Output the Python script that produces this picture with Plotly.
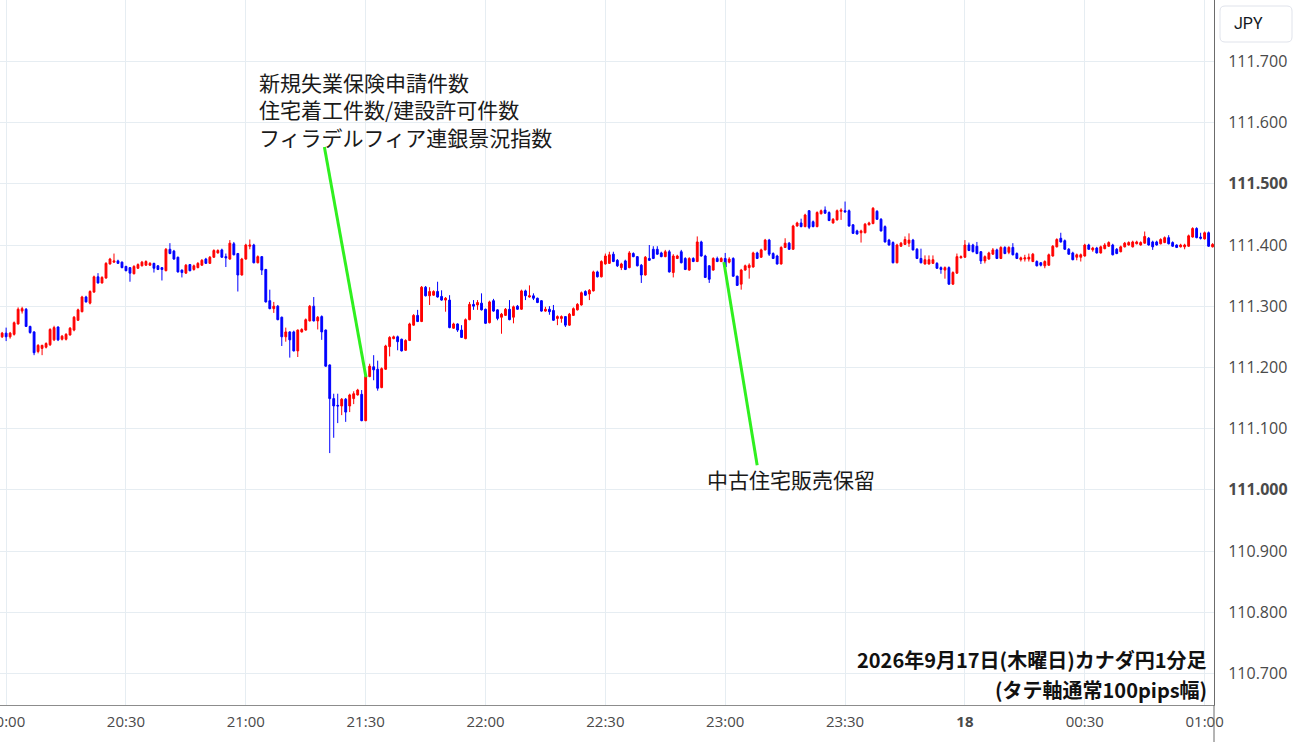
import pandas as pd
import plotly.graph_objects as go

# 1-minute bars, 2026-09-17 19:59 -> 2026-09-18 01:02
times = pd.date_range("2026-09-17 19:59", periods=304, freq="1min")

open_ = [
    111.250, 111.256, 111.250, 111.254, 111.271, 111.292, 111.295, 111.267, 111.258, 111.226,
    111.231, 111.233, 111.237, 111.245, 111.266, 111.246, 111.246, 111.253, 111.261, 111.277,
    111.291, 111.315, 111.305, 111.323, 111.348, 111.338, 111.346, 111.369, 111.372, 111.374,
    111.372, 111.365, 111.363, 111.353, 111.362, 111.366, 111.367, 111.367, 111.370, 111.366,
    111.363, 111.358, 111.393, 111.390, 111.380, 111.359, 111.354, 111.368, 111.360, 111.363,
    111.367, 111.377, 111.370, 111.380, 111.387, 111.392, 111.381, 111.377, 111.402, 111.386,
    111.351, 111.377, 111.398, 111.400, 111.371, 111.381, 111.360, 111.309, 111.296, 111.300,
    111.282, 111.250, 111.258, 111.258, 111.227, 111.258, 111.261, 111.276, 111.300, 111.276,
    111.283, 111.261, 111.204, 111.149, 111.138, 111.137, 111.148, 111.137, 111.149, 111.155,
    111.156, 111.113, 111.185, 111.201, 111.197, 111.167, 111.197, 111.234, 111.247, 111.250,
    111.246, 111.228, 111.244, 111.269, 111.285, 111.275, 111.331, 111.317, 111.318, 111.324,
    111.316, 111.310, 111.310, 111.264, 111.271, 111.261, 111.247, 111.278, 111.303, 111.302,
    111.305, 111.295, 111.273, 111.309, 111.294, 111.282, 111.285, 111.295, 111.282, 111.300,
    111.295, 111.325, 111.315, 111.317, 111.313, 111.309, 111.292, 111.295, 111.293, 111.280,
    111.280, 111.283, 111.269, 111.285, 111.294, 111.302, 111.324, 111.320, 111.325, 111.356,
    111.348, 111.369, 111.370, 111.385, 111.375, 111.363, 111.374, 111.363, 111.386, 111.381,
    111.367, 111.351, 111.378, 111.393, 111.393, 111.387, 111.381, 111.389, 111.355, 111.378,
    111.389, 111.378, 111.359, 111.378, 111.373, 111.405, 111.382, 111.366, 111.359, 111.378,
    111.373, 111.378, 111.372, 111.378, 111.349, 111.336, 111.359, 111.363, 111.364, 111.387,
    111.380, 111.392, 111.408, 111.386, 111.382, 111.369, 111.396, 111.403, 111.393, 111.431,
    111.436, 111.430, 111.456, 111.438, 111.430, 111.451, 111.457, 111.453, 111.436, 111.441,
    111.455, 111.456, 111.456, 111.433, 111.423, 111.420, 111.420, 111.433, 111.435, 111.455,
    111.442, 111.430, 111.408, 111.404, 111.371, 111.398, 111.401, 111.403, 111.408, 111.393,
    111.378, 111.369, 111.369, 111.370, 111.370, 111.363, 111.359, 111.363, 111.336, 111.354,
    111.379, 111.380, 111.400, 111.400, 111.398, 111.389, 111.374, 111.377, 111.385, 111.392,
    111.378, 111.396, 111.388, 111.396, 111.386, 111.376, 111.377, 111.377, 111.373, 111.373,
    111.371, 111.366, 111.367, 111.382, 111.397, 111.411, 111.407, 111.393, 111.387, 111.380,
    111.380, 111.382, 111.400, 111.392, 111.395, 111.387, 111.394, 111.398, 111.400, 111.393,
    111.389, 111.397, 111.400, 111.397, 111.402, 111.400, 111.403, 111.411, 111.405, 111.405,
    111.402, 111.404, 111.412, 111.404, 111.400, 111.397, 111.397, 111.398, 111.413, 111.427,
    111.413, 111.410, 111.420, 111.397,
]

high = [
    111.258, 111.265, 111.258, 111.275, 111.298, 111.299, 111.297, 111.268, 111.259, 111.238,
    111.237, 111.241, 111.264, 111.268, 111.267, 111.253, 111.256, 111.266, 111.284, 111.296,
    111.317, 111.317, 111.326, 111.350, 111.354, 111.349, 111.372, 111.379, 111.386, 111.376,
    111.373, 111.366, 111.364, 111.367, 111.370, 111.374, 111.375, 111.372, 111.371, 111.367,
    111.364, 111.395, 111.403, 111.392, 111.381, 111.360, 111.369, 111.369, 111.368, 111.372,
    111.377, 111.379, 111.382, 111.393, 111.393, 111.394, 111.386, 111.408, 111.405, 111.387,
    111.379, 111.402, 111.409, 111.402, 111.383, 111.382, 111.361, 111.327, 111.307, 111.302,
    111.283, 111.265, 111.259, 111.260, 111.262, 111.264, 111.280, 111.302, 111.315, 111.284,
    111.285, 111.262, 111.205, 111.157, 111.157, 111.150, 111.150, 111.157, 111.161, 111.165,
    111.163, 111.187, 111.206, 111.220, 111.211, 111.200, 111.237, 111.251, 111.252, 111.252,
    111.247, 111.246, 111.273, 111.287, 111.294, 111.333, 111.333, 111.331, 111.326, 111.340,
    111.326, 111.315, 111.318, 111.273, 111.272, 111.269, 111.280, 111.307, 111.310, 111.310,
    111.321, 111.296, 111.309, 111.312, 111.295, 111.289, 111.297, 111.310, 111.301, 111.302,
    111.327, 111.327, 111.334, 111.321, 111.314, 111.310, 111.299, 111.300, 111.302, 111.285,
    111.285, 111.284, 111.289, 111.298, 111.305, 111.324, 111.326, 111.328, 111.358, 111.358,
    111.375, 111.386, 111.389, 111.389, 111.377, 111.371, 111.376, 111.390, 111.388, 111.382,
    111.369, 111.382, 111.400, 111.398, 111.398, 111.389, 111.392, 111.392, 111.385, 111.384,
    111.392, 111.380, 111.380, 111.380, 111.414, 111.407, 111.384, 111.367, 111.380, 111.381,
    111.380, 111.387, 111.380, 111.380, 111.350, 111.361, 111.368, 111.370, 111.389, 111.389,
    111.394, 111.410, 111.410, 111.388, 111.384, 111.398, 111.411, 111.405, 111.433, 111.438,
    111.443, 111.451, 111.457, 111.440, 111.455, 111.458, 111.463, 111.455, 111.444, 111.458,
    111.460, 111.471, 111.458, 111.434, 111.425, 111.425, 111.436, 111.438, 111.462, 111.457,
    111.444, 111.432, 111.410, 111.406, 111.402, 111.405, 111.414, 111.419, 111.410, 111.395,
    111.394, 111.383, 111.383, 111.383, 111.372, 111.365, 111.365, 111.365, 111.357, 111.386,
    111.383, 111.408, 111.404, 111.402, 111.405, 111.390, 111.383, 111.389, 111.395, 111.394,
    111.398, 111.398, 111.398, 111.403, 111.388, 111.381, 111.384, 111.386, 111.387, 111.375,
    111.372, 111.375, 111.386, 111.400, 111.411, 111.420, 111.409, 111.395, 111.389, 111.386,
    111.386, 111.402, 111.402, 111.397, 111.397, 111.399, 111.403, 111.406, 111.402, 111.395,
    111.399, 111.405, 111.406, 111.407, 111.407, 111.406, 111.422, 111.413, 111.407, 111.407,
    111.411, 111.414, 111.416, 111.406, 111.401, 111.402, 111.402, 111.417, 111.429, 111.429,
    111.420, 111.422, 111.422, 111.403,
]

low = [
    111.248, 111.243, 111.247, 111.252, 111.270, 111.288, 111.266, 111.255, 111.220, 111.223,
    111.220, 111.231, 111.235, 111.243, 111.243, 111.244, 111.244, 111.252, 111.259, 111.276,
    111.290, 111.306, 111.303, 111.322, 111.337, 111.337, 111.345, 111.368, 111.371, 111.369,
    111.362, 111.357, 111.340, 111.352, 111.361, 111.365, 111.366, 111.366, 111.355, 111.359,
    111.342, 111.357, 111.385, 111.376, 111.355, 111.347, 111.353, 111.357, 111.358, 111.362,
    111.366, 111.369, 111.369, 111.379, 111.386, 111.379, 111.364, 111.376, 111.383, 111.324,
    111.350, 111.376, 111.393, 111.370, 111.370, 111.351, 111.306, 111.295, 111.289, 111.277,
    111.235, 111.242, 111.216, 111.226, 111.217, 111.257, 111.260, 111.275, 111.275, 111.262,
    111.245, 111.201, 111.060, 111.085, 111.109, 111.122, 111.111, 111.127, 111.140, 111.154,
    111.112, 111.112, 111.184, 111.179, 111.162, 111.166, 111.196, 111.218, 111.246, 111.228,
    111.226, 111.227, 111.243, 111.268, 111.274, 111.274, 111.316, 111.302, 111.317, 111.314,
    111.309, 111.291, 111.264, 111.263, 111.258, 111.248, 111.246, 111.277, 111.294, 111.294,
    111.293, 111.271, 111.272, 111.291, 111.277, 111.255, 111.284, 111.277, 111.272, 111.294,
    111.294, 111.310, 111.314, 111.310, 111.305, 111.291, 111.291, 111.286, 111.276, 111.269,
    111.273, 111.266, 111.268, 111.284, 111.293, 111.301, 111.317, 111.310, 111.324, 111.347,
    111.347, 111.368, 111.369, 111.372, 111.364, 111.359, 111.359, 111.362, 111.380, 111.365,
    111.338, 111.350, 111.374, 111.377, 111.384, 111.380, 111.380, 111.355, 111.347, 111.377,
    111.370, 111.359, 111.358, 111.372, 111.372, 111.381, 111.346, 111.338, 111.358, 111.372,
    111.372, 111.363, 111.370, 111.348, 111.333, 111.327, 111.358, 111.345, 111.363, 111.377,
    111.379, 111.391, 111.382, 111.377, 111.368, 111.368, 111.395, 111.392, 111.392, 111.430,
    111.429, 111.429, 111.426, 111.429, 111.429, 111.450, 111.451, 111.439, 111.435, 111.440,
    111.441, 111.453, 111.430, 111.418, 111.417, 111.404, 111.419, 111.432, 111.434, 111.441,
    111.422, 111.404, 111.399, 111.370, 111.370, 111.397, 111.400, 111.397, 111.391, 111.377,
    111.370, 111.368, 111.368, 111.369, 111.361, 111.353, 111.345, 111.335, 111.335, 111.353,
    111.378, 111.379, 111.390, 111.388, 111.385, 111.369, 111.370, 111.376, 111.384, 111.377,
    111.377, 111.385, 111.385, 111.383, 111.377, 111.373, 111.373, 111.373, 111.372, 111.365,
    111.365, 111.362, 111.366, 111.381, 111.396, 111.404, 111.392, 111.384, 111.375, 111.375,
    111.373, 111.381, 111.392, 111.389, 111.386, 111.386, 111.393, 111.397, 111.383, 111.385,
    111.388, 111.396, 111.399, 111.396, 111.401, 111.399, 111.402, 111.399, 111.392, 111.399,
    111.401, 111.403, 111.401, 111.397, 111.395, 111.396, 111.393, 111.397, 111.412, 111.411,
    111.409, 111.409, 111.397, 111.396,
]

close = [
    111.256, 111.250, 111.256, 111.273, 111.295, 111.296, 111.267, 111.257, 111.224, 111.236,
    111.236, 111.239, 111.262, 111.265, 111.245, 111.251, 111.254, 111.264, 111.282, 111.294,
    111.315, 111.307, 111.324, 111.348, 111.338, 111.347, 111.370, 111.377, 111.374, 111.370,
    111.363, 111.358, 111.354, 111.365, 111.368, 111.372, 111.373, 111.370, 111.362, 111.360,
    111.360, 111.393, 111.386, 111.377, 111.356, 111.355, 111.367, 111.358, 111.366, 111.370,
    111.375, 111.370, 111.380, 111.391, 111.391, 111.380, 111.379, 111.403, 111.384, 111.351,
    111.377, 111.400, 111.400, 111.371, 111.381, 111.359, 111.307, 111.296, 111.300, 111.278,
    111.250, 111.258, 111.245, 111.227, 111.261, 111.262, 111.278, 111.300, 111.276, 111.282,
    111.258, 111.202, 111.149, 111.137, 111.137, 111.148, 111.127, 111.155, 111.157, 111.163,
    111.113, 111.185, 111.202, 111.196, 111.166, 111.198, 111.235, 111.249, 111.250, 111.242,
    111.227, 111.244, 111.271, 111.285, 111.275, 111.331, 111.317, 111.324, 111.324, 111.315,
    111.310, 111.313, 111.265, 111.271, 111.261, 111.249, 111.278, 111.303, 111.300, 111.306,
    111.294, 111.272, 111.307, 111.292, 111.280, 111.287, 111.295, 111.278, 111.299, 111.295,
    111.325, 111.317, 111.317, 111.313, 111.306, 111.292, 111.295, 111.291, 111.277, 111.283,
    111.283, 111.269, 111.287, 111.296, 111.303, 111.322, 111.318, 111.326, 111.356, 111.348,
    111.373, 111.382, 111.384, 111.373, 111.366, 111.369, 111.360, 111.387, 111.381, 111.366,
    111.351, 111.380, 111.375, 111.378, 111.385, 111.381, 111.389, 111.356, 111.382, 111.382,
    111.371, 111.360, 111.378, 111.373, 111.405, 111.382, 111.347, 111.344, 111.378, 111.373,
    111.378, 111.364, 111.377, 111.349, 111.334, 111.359, 111.366, 111.367, 111.387, 111.378,
    111.392, 111.408, 111.385, 111.378, 111.369, 111.396, 111.403, 111.393, 111.431, 111.436,
    111.430, 111.449, 111.429, 111.430, 111.453, 111.456, 111.452, 111.440, 111.442, 111.456,
    111.457, 111.454, 111.431, 111.419, 111.418, 111.423, 111.434, 111.436, 111.460, 111.442,
    111.423, 111.405, 111.400, 111.371, 111.400, 111.403, 111.409, 111.408, 111.392, 111.378,
    111.371, 111.376, 111.376, 111.376, 111.362, 111.360, 111.363, 111.336, 111.355, 111.381,
    111.381, 111.400, 111.391, 111.389, 111.386, 111.374, 111.381, 111.387, 111.392, 111.378,
    111.396, 111.386, 111.396, 111.384, 111.378, 111.379, 111.379, 111.380, 111.385, 111.366,
    111.367, 111.373, 111.384, 111.398, 111.409, 111.405, 111.393, 111.385, 111.376, 111.384,
    111.384, 111.400, 111.393, 111.395, 111.387, 111.397, 111.400, 111.404, 111.384, 111.386,
    111.397, 111.403, 111.404, 111.405, 111.405, 111.404, 111.414, 111.400, 111.397, 111.400,
    111.409, 111.412, 111.402, 111.398, 111.396, 111.400, 111.400, 111.415, 111.427, 111.412,
    111.411, 111.420, 111.398, 111.401,
]

x_tick_vals = ["2026-09-17 20:00", "2026-09-17 20:30", "2026-09-17 21:00", "2026-09-17 21:30",
               "2026-09-17 22:00", "2026-09-17 22:30", "2026-09-17 23:00", "2026-09-17 23:30",
               "2026-09-18 00:00", "2026-09-18 00:30", "2026-09-18 01:00"]
x_tick_text = ["20:00", "20:30", "21:00", "21:30", "22:00", "22:30", "23:00", "23:30",
               "<b>18</b>", "00:30", "01:00"]
y_tick_vals = [110.7, 110.8, 110.9, 111.0, 111.1, 111.2, 111.3, 111.4, 111.5, 111.6, 111.7]
y_tick_text = ["110.700", "110.800", "110.900", "<b>111.000</b>", "111.100", "111.200",
               "111.300", "111.400", "<b>111.500</b>", "111.600", "111.700"]

event_1_lines = ["新規失業保険申請件数", "住宅着工件数/建設許可件数", "フィラデルフィア連銀景況指数"]
event_2_text = "中古住宅販売保留"
caption_lines = ["2026年9月17日(木曜日)カナダ円1分足", "(タテ軸通常100pips幅)"]

W, H = 1300, 745
PL, PR, PT, PB = 0, 1214, 0, 705  # plot area in pixels


def px(x):
    return (x - PL) / (PR - PL)


def py(y):
    return 1 - (y - PT) / (PB - PT)


fig = go.Figure()
fig.add_trace(go.Candlestick(
    x=times, open=open_, high=high, low=low, close=close,
    increasing=dict(line=dict(color="#ff0000", width=1), fillcolor="#ff0000"),
    decreasing=dict(line=dict(color="#0000ff", width=1), fillcolor="#0000ff"),
    whiskerwidth=0, hoverinfo="skip",
))

CJK = "Noto Sans CJK JP"
ann = [
    dict(x=px(257), y=py(109), xref="paper", yref="paper", text="<br>".join(event_1_lines),
         showarrow=False, xanchor="left", yanchor="middle", align="left",
         font=dict(family=CJK, size=21, color="#1a1a1a")),
    dict(x=px(705), y=py(479), xref="paper", yref="paper", text=event_2_text,
         showarrow=False, xanchor="left", yanchor="middle",
         font=dict(family=CJK, size=21, color="#1a1a1a")),
    dict(x=px(1209), y=py(659), xref="paper", yref="paper",
         text="<b>" + caption_lines[0] + "</b>",
         showarrow=False, xanchor="right", yanchor="middle", align="right",
         font=dict(family=CJK, size=20, color="#111111")),
    dict(x=px(1209), y=py(689), xref="paper", yref="paper",
         text="<b>" + caption_lines[1] + "</b>",
         showarrow=False, xanchor="right", yanchor="middle", align="right",
         font=dict(family=CJK, size=20, color="#111111")),
    dict(x=px(1248), y=py(23), xref="paper", yref="paper", text="JPY",
         showarrow=False, xanchor="center", yanchor="middle",
         font=dict(family="Roboto", size=16, color="#131722")),
]

# rounded box for currency label
bx0, bx1, by0, by1 = px(1220), px(1292), py(6), py(42)
rx, ry = 5 / (PR - PL), 5 / (PB - PT)
box_path = (f"M {bx0+rx},{by0} L {bx1-rx},{by0} Q {bx1},{by0} {bx1},{by0-ry} "
            f"L {bx1},{by1+ry} Q {bx1},{by1} {bx1-rx},{by1} L {bx0+rx},{by1} "
            f"Q {bx0},{by1} {bx0},{by1+ry} L {bx0},{by0-ry} Q {bx0},{by0} {bx0+rx},{by0} Z")

shapes = [
    dict(type="line", xref="x", yref="y", x0="2026-09-17 21:19:40", y0=111.560,
         x1="2026-09-17 21:30:05", y1=111.184, line=dict(color="#2ff01f", width=3)),
    dict(type="line", xref="x", yref="y", x0="2026-09-17 22:59:40", y0=111.372,
         x1="2026-09-17 23:08:00", y1=111.040, line=dict(color="#2ff01f", width=3)),
    dict(type="line", xref="paper", yref="paper", x0=1, x1=1, y0=0, y1=-(H - 3 - PB) / (PB - PT),
         line=dict(color="#6b6b6b", width=1)),
    dict(type="path", xref="paper", yref="paper", path=box_path,
         line=dict(color="#e0e3eb", width=1), fillcolor="white"),
]

fig.update_layout(
    width=W, height=H,
    margin=dict(l=PL, r=W - PR, t=PT, b=H - PB, autoexpand=False),
    paper_bgcolor="white", plot_bgcolor="white",
    showlegend=False, boxgap=0.35,
    annotations=ann, shapes=shapes,
    xaxis=dict(
        type="date", rangeslider=dict(visible=False),
        range=["2026-09-17 19:58:28", "2026-09-18 01:02:21"],
        tickmode="array", tickvals=x_tick_vals, ticktext=x_tick_text,
        showgrid=True, gridcolor="#e6edf2", gridwidth=1,
        showline=True, linecolor="#8c8c8c", linewidth=1,
        ticks="", ticklabelstandoff=3, ticklabeloverflow="allow",
        tickfont=dict(family="Open Sans", size=15, color="#4a4a4a"),
        zeroline=False, automargin=False,
    ),
    yaxis=dict(
        side="right", range=[110.6484, 111.8003],
        tickmode="array", tickvals=y_tick_vals, ticktext=y_tick_text,
        showgrid=True, gridcolor="#e6edf2", gridwidth=1,
        showline=True, linecolor="#6b6b6b", linewidth=1,
        ticks="", ticklabelstandoff=10,
        tickfont=dict(family="Open Sans", size=16, color="#4a4a4a"),
        zeroline=False, automargin=False,
    ),
)

fig.write_html("out.html", config={"displayModeBar": False},
               post_script="document.body.style.margin='0px';")
